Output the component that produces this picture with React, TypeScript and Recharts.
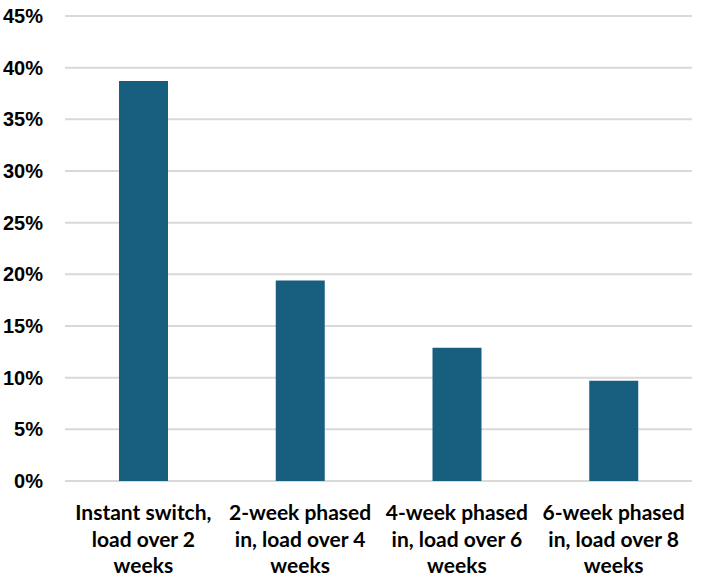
import { BarChart, Bar, XAxis, YAxis, CartesianGrid } from "recharts";

const categories = [
  ["Instant switch,", "load over 2", "weeks"],
  ["2-week phased", "in, load over 4", "weeks"],
  ["4-week phased", "in, load over 6", "weeks"],
  ["6-week phased", "in, load over 8", "weeks"],
];
const shares = [38.7, 19.4, 12.9, 9.7];
const yTicks = [0, 5, 10, 15, 20, 25, 30, 35, 40, 45];

const data = categories.map((lines, i) => ({ name: lines.join(" "), idx: i, value: shares[i] }));

function CategoryTick({ x, y, payload }: any) {
  const lines = categories[payload.index] ?? [String(payload.value)];
  return (
    <text
      x={x}
      y={y}
      textAnchor="middle"
      fill="#000"
      fontFamily="Lato, 'Noto Sans', sans-serif"
      fontWeight={700}
      fontSize={21}
    >
      {lines.map((line, i) => (
        <tspan key={i} x={x} y={y + 31 + i * 26.5}>
          {line}
        </tspan>
      ))}
    </text>
  );
}

export default function App() {
  return (
    <div style={{ position: "absolute", left: 0, top: 0, width: 702, height: 580, background: "#fff" }}>
      <BarChart
        width={702}
        height={580}
        data={data}
        margin={{ top: 16, right: 10, bottom: 0, left: 0 }}
        barCategoryGap={0}
      >
        <CartesianGrid vertical={false} stroke="#d9d9d9" strokeWidth={2} />
        <XAxis
          dataKey="name"
          axisLine={false}
          tickLine={false}
          interval={0}
          height={99}
          tick={<CategoryTick />}
        />
        <YAxis
          domain={[0, 45]}
          ticks={yTicks}
          interval={0}
          width={65}
          axisLine={false}
          tickLine={false}
          tickSize={0}
          tickMargin={22}
          tickFormatter={(v: number) => `${v}%`}
          tick={{ fill: "#000", fontFamily: "'Liberation Sans', Arial, sans-serif", fontWeight: 700, fontSize: 20 }}
        />
        <Bar dataKey="value" fill="#185f7f" barSize={49} isAnimationActive={false} />
      </BarChart>
    </div>
  );
}
